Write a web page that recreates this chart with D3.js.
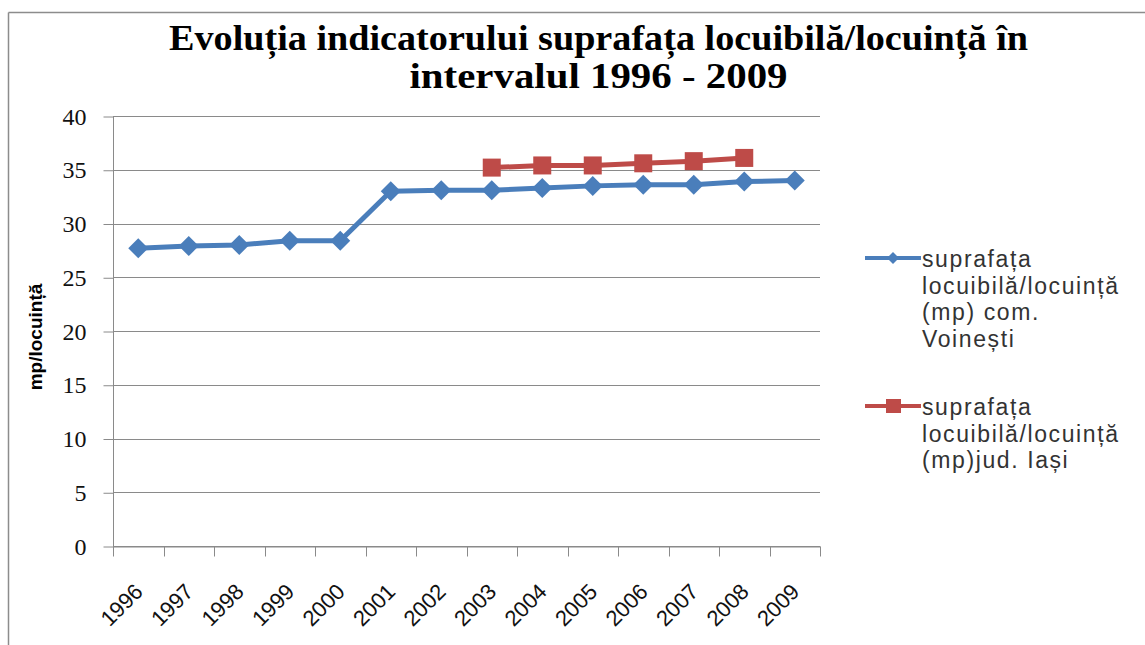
<!DOCTYPE html>
<html>
<head>
<meta charset="utf-8">
<script src="https://cdn.jsdelivr.net/npm/d3@7"></script>
<style>
  html, body { margin: 0; padding: 0; background: #ffffff; }
  svg { display: block; }
</style>
</head>
<body>
<svg id="chart" width="1145" height="645"></svg>
<script>
const years = ["1996","1997","1998","1999","2000","2001","2002","2003","2004","2005","2006","2007","2008","2009"];
const voinestiValues = [27.7, 27.9, 28.0, 28.4, 28.4, 33.0, 33.1, 33.1, 33.3, 33.5, 33.6, 33.6, 33.9, 34.0];
const iasiYears = ["2003","2004","2005","2006","2007","2008"];
const iasiValues = [35.2, 35.4, 35.4, 35.6, 35.8, 36.1];
const yTicks = [0, 5, 10, 15, 20, 25, 30, 35, 40];
const titleLines = ["Evoluția indicatorului suprafața locuibilă/locuință în", "intervalul 1996 - 2009"];
const yAxisTitle = "mp/locuință";
const legendVoinesti = ["suprafața", "locuibilă/locuință", "(mp) com.", "Voinești"];
const legendIasi = ["suprafața", "locuibilă/locuință", "(mp)jud. Iași"];

const blue = "#4A7EBB";
const red = "#BE4B48";
const gridColor = "#8a8a8a";

const svg = d3.select("#chart");

// outer frame (top and left edges visible)
svg.append("line").attr("x1", 8.5).attr("y1", 12.5).attr("x2", 1145).attr("y2", 12.5)
  .attr("stroke", "#8c8c8c").attr("stroke-width", 1.5);
svg.append("line").attr("x1", 8.5).attr("y1", 12.5).attr("x2", 8.5).attr("y2", 645)
  .attr("stroke", "#8c8c8c").attr("stroke-width", 1.5);

// title
const titleG = svg.append("g");
const titleBase = [50, 88];
const titleWidths = [859, 378];
titleLines.forEach((t, i) => {
  titleG.append("text")
    .attr("x", 598.5).attr("y", titleBase[i])
    .attr("text-anchor", "middle")
    .style("font-family", "'Liberation Serif', 'DejaVu Serif', serif")
    .style("font-weight", "bold")
    .style("font-size", "35px")
    .attr("textLength", titleWidths[i])
    .attr("lengthAdjust", "spacingAndGlyphs")
    .attr("fill", "#000")
    .text(t);
});

// scales
const x = d3.scaleBand().domain(years).range([113, 820]).padding(0);
const y = d3.scaleLinear().domain([0, 40]).range([546, 116]);
const cx = d => x(d) + x.bandwidth() / 2;

// gridlines
svg.append("g")
  .selectAll("line")
  .data(yTicks)
  .join("line")
  .attr("x1", 113).attr("x2", 820)
  .attr("y1", d => Math.round(y(d)) + 0.5).attr("y2", d => Math.round(y(d)) + 0.5)
  .attr("stroke", gridColor).attr("stroke-width", 1);

// y axis
const yAxis = d3.axisLeft(y).tickValues(yTicks).tickSize(10).tickPadding(17).tickFormat(d3.format("d"));
const yg = svg.append("g").attr("transform", "translate(113.5,0.5)").call(yAxis);
yg.attr("font-family", null).attr("font-size", null);
yg.select(".domain").attr("stroke", gridColor).attr("d", "M0," + y(40) + "V" + y(0));
yg.selectAll(".tick line").attr("stroke", gridColor);
yg.selectAll(".tick text")
  .style("font-family", "'Liberation Serif', 'DejaVu Serif', serif")
  .style("font-size", "24px")
  .attr("fill", "#111");

// x axis
const xAxis = d3.axisBottom(x).tickSize(0).tickFormat("");
const xg = svg.append("g").attr("transform", "translate(0," + (Math.round(y(0)) + 0.5) + ")").call(xAxis);
xg.select(".domain").attr("stroke", gridColor);
// ticks at band boundaries
const boundaries = years.map(d => x(d)).concat([x(years[years.length - 1]) + x.bandwidth()]);
xg.selectAll("line.bound")
  .data(boundaries)
  .join("line")
  .attr("class", "bound")
  .attr("x1", d => Math.round(d) + 0.5).attr("x2", d => Math.round(d) + 0.5)
  .attr("y1", 0).attr("y2", 10)
  .attr("stroke", gridColor);
// rotated labels
svg.append("g")
  .selectAll("text")
  .data(years)
  .join("text")
  .attr("transform", d => "translate(" + (cx(d) + 6) + ",593) rotate(-45)")
  .attr("text-anchor", "end")
  .style("font-family", "'Liberation Sans', Arial, sans-serif")
  .style("font-size", "22px")
  .attr("fill", "#111")
  .text(d => d);

// y axis title
svg.append("text")
  .attr("transform", "translate(42,337) rotate(-90)")
  .attr("text-anchor", "middle")
  .style("font-family", "'Liberation Sans', Arial, sans-serif")
  .style("font-weight", "bold")
  .style("font-size", "19px")
  .attr("fill", "#000")
  .text(yAxisTitle);

// series
const lineGen = d3.line().x(d => cx(d[0])).y(d => y(d[1]));
const voinestiData = years.map((yr, i) => [yr, voinestiValues[i]]);
const iasiData = iasiYears.map((yr, i) => [yr, iasiValues[i]]);

svg.append("path")
  .datum(voinestiData)
  .attr("d", lineGen)
  .attr("fill", "none").attr("stroke", blue).attr("stroke-width", 5).attr("stroke-linejoin", "round");

svg.append("g").selectAll("path")
  .data(voinestiData)
  .join("path")
  .attr("transform", d => "translate(" + cx(d[0]) + "," + y(d[1]) + ")")
  .attr("d", "M0,-10L10,0L0,10L-10,0Z")
  .attr("fill", blue);

svg.append("path")
  .datum(iasiData)
  .attr("d", lineGen)
  .attr("fill", "none").attr("stroke", red).attr("stroke-width", 5).attr("stroke-linejoin", "round");

svg.append("g").selectAll("rect")
  .data(iasiData)
  .join("rect")
  .attr("x", d => cx(d[0]) - 9).attr("y", d => y(d[1]) - 9)
  .attr("width", 18).attr("height", 18)
  .attr("fill", red);

// legend
const legendFont = "'Liberation Sans', Arial, sans-serif";
function legendEntry(lines, markerY, firstBase, color, marker) {
  const g = svg.append("g");
  g.append("line").attr("x1", 865).attr("x2", 921).attr("y1", markerY).attr("y2", markerY)
    .attr("stroke", color).attr("stroke-width", 4);
  if (marker === "diamond") {
    g.append("path").attr("transform", "translate(893," + markerY + ")")
      .attr("d", "M0,-6L6,0L0,6L-6,0Z").attr("fill", color);
  } else {
    g.append("rect").attr("x", 886).attr("y", markerY - 7).attr("width", 15).attr("height", 14).attr("fill", color);
  }
  lines.forEach((t, i) => {
    g.append("text")
      .attr("x", 922).attr("y", firstBase + i * 26.5)
      .style("font-family", legendFont)
      .style("font-size", "23px")
      .style("letter-spacing", "1.6px")
      .attr("fill", "#333")
      .text(t);
  });
}
legendEntry(legendVoinesti, 258, 267, blue, "diamond");
legendEntry(legendIasi, 406, 415, red, "square");
</script>
</body>
</html>
